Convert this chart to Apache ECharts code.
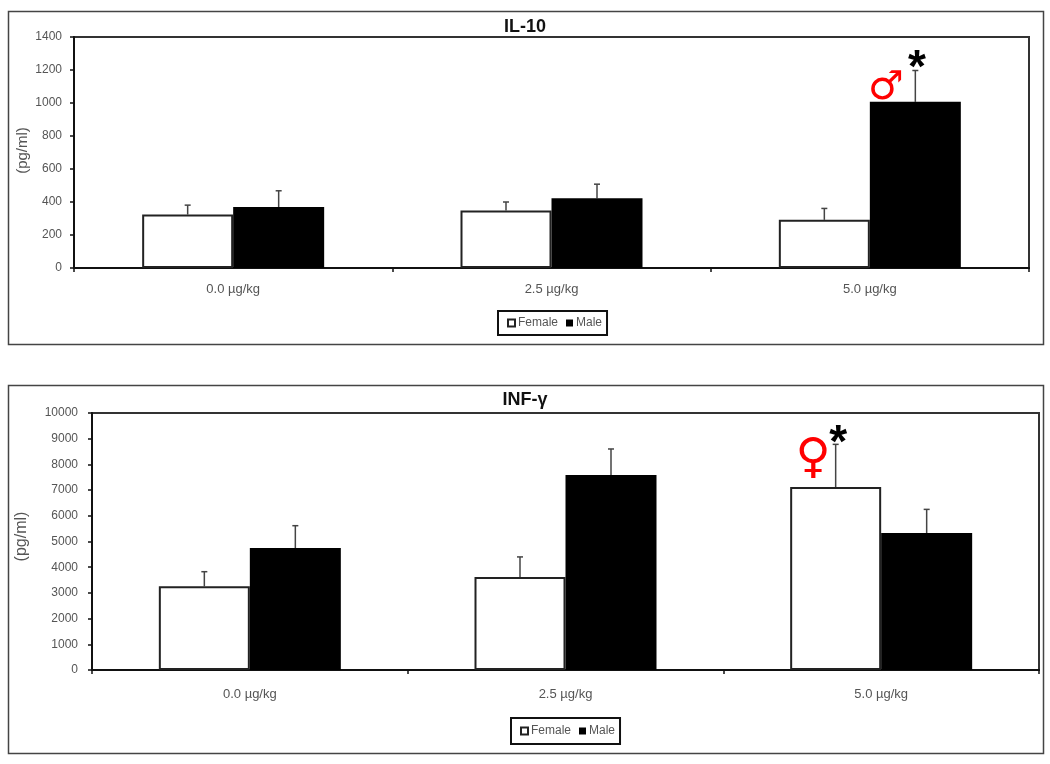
<!DOCTYPE html>
<html>
<head>
<meta charset="utf-8">
<title>IL-10 and INF-γ</title>
<script src="https://cdn.jsdelivr.net/npm/echarts@6/dist/echarts.min.js"></script>
<style>
  html, body { margin: 0; padding: 0; background: #fff; }
  #chart { width: 1050px; height: 764px; filter: blur(0.5px); }
</style>
</head>
<body>
<div id="chart"></div>
<script>
// doses, shared by both panels
const doses = ['0.0 µg/kg', '2.5 µg/kg', '5.0 µg/kg'];

// IL-10 (pg/ml)
const il10Female = [324, 348, 292];
const il10Male = [369, 423, 1007];
const il10FemaleTop = [381, 400, 361];
const il10MaleTop = [468, 508, 1197];
const il10Ticks = [0, 1400, 200];

// INF-γ (pg/ml)
const infFemale = [3257, 3620, 7120];
const infMale = [4747, 7590, 5330];
const infFemaleTop = [3825, 4400, 8780];
const infMaleTop = [5615, 8600, 6250];
const infTicks = [0, 10000, 1000];

// [dose index, value, text]
const il10Marks = [[2, 1090, '♂'], [2, 1205, '*']];
const infMarks = [[2, 8170, '♀'], [2, 8800, '*']];

const BAR_W = 91;
const font = '"Liberation Sans", Arial, sans-serif';
const grey = '#555';
const markFonts = { '*': 'bold 46px ' + font, '♂': '40px "DejaVu Sans"', '♀': '48px "DejaVu Sans"' };

// whisker above a bar, side is -1 for female and 1 for male
function errorBar(gridIndex, name, side, values, tops) {
  return {
    type: 'custom',
    name: name,
    xAxisIndex: gridIndex,
    yAxisIndex: gridIndex,
    z: 1,
    silent: true,
    data: values.map((v, i) => [i, v, tops[i]]),
    encode: { x: 0, y: [1, 2] },
    renderItem(params, api) {
      const from = api.coord([api.value(0), api.value(1)]);
      const to = api.coord([api.value(0), api.value(2)]);
      const x = from[0] + side * BAR_W / 2;
      const style = { stroke: '#444', lineWidth: 1.5, fill: null };
      return {
        type: 'group',
        children: [
          { type: 'line', shape: { x1: x, y1: from[1], x2: x, y2: to[1] }, style },
          { type: 'line', shape: { x1: x - 3, y1: to[1], x2: x + 3, y2: to[1] }, style }
        ]
      };
    }
  };
}

// symbols drawn over the plot, anchored to the data
function marks(gridIndex, data, offsets) {
  return {
    type: 'custom',
    xAxisIndex: gridIndex,
    yAxisIndex: gridIndex,
    z: 5,
    silent: true,
    data: data,
    encode: { x: 0, y: 1 },
    renderItem(params, api) {
      const p = api.coord([api.value(0), api.value(1)]);
      const text = data[params.dataIndex][2];
      return {
        type: 'text',
        x: p[0] + offsets[params.dataIndex],
        y: p[1],
        style: {
          text: text,
          fill: text === '*' ? '#000' : '#f00',
          font: markFonts[text],
          align: 'center',
          verticalAlign: 'middle'
        }
      };
    }
  };
}

function barSeries(gridIndex, name, values, fill, border) {
  return {
    type: 'bar',
    name: name,
    xAxisIndex: gridIndex,
    yAxisIndex: gridIndex,
    data: values,
    barWidth: BAR_W,
    barGap: 0,
    z: 2,
    itemStyle: { color: fill, borderColor: '#222', borderWidth: border }
  };
}

function xAxis(gridIndex, labelMargin) {
  return {
    type: 'category',
    gridIndex: gridIndex,
    data: doses,
    axisLine: { lineStyle: { color: '#111', width: 2 } },
    axisTick: { show: true, length: 4, lineStyle: { color: '#111', width: 1.5 } },
    axisLabel: { color: grey, fontFamily: font, fontSize: 13, margin: labelMargin }
  };
}

function yAxis(gridIndex, ticks, nameGap, nameSize, nameShift, labelMargin) {
  return {
    type: 'value',
    gridIndex: gridIndex,
    min: ticks[0],
    max: ticks[1],
    interval: ticks[2],
    name: '(pg/ml)',
    nameLocation: 'middle',
    nameGap: nameGap,
    nameMoveOverlap: false,
    nameTextStyle: { color: grey, fontFamily: font, fontSize: nameSize, padding: [0, 0, 0, nameShift] },
    splitLine: { show: false },
    axisLine: { show: true, lineStyle: { color: '#111', width: 2 } },
    axisTick: { show: true, length: 4, lineStyle: { color: '#111', width: 1.5 } },
    axisLabel: { color: grey, fontFamily: font, fontSize: 12, margin: labelMargin, formatter: v => String(v) }
  };
}

function legend(left, top, pad) {
  return {
    data: ['Female', 'Male'],
    top: top,
    left: left,
    selectedMode: false,
    orient: 'horizontal',
    icon: 'rect',
    itemWidth: 7,
    itemHeight: 7,
    itemGap: 8,
    padding: [pad, 5, pad, 9],
    borderColor: '#111',
    borderWidth: 2,
    textStyle: { color: grey, fontFamily: font, fontSize: 12, padding: [0, 0, 0, -2] }
  };
}

function titleAt(text, top) {
  return {
    text: text,
    left: 'center',
    top: top,
    padding: 0,
    textStyle: { color: '#111', fontFamily: font, fontSize: 18, fontWeight: 'bold' }
  };
}

function frame(y, height) {
  return {
    type: 'rect',
    shape: { x: 8.5, y: y + 0.5, width: 1035, height: height },
    style: { fill: null, stroke: '#444', lineWidth: 1.5 },
    z: -1
  };
}

const chart = echarts.init(document.getElementById('chart'), null, { renderer: 'canvas' });
chart.setOption({
  animation: false,
  backgroundColor: '#fff',
  title: [titleAt('IL-10', 18), titleAt('INF-γ', 391)],
  legend: [legend(498, 311, 6), legend(511, 718, 7)],
  grid: [
    { left: 74, right: 21, top: 37, height: 231, show: true, borderColor: '#333', borderWidth: 2, backgroundColor: 'transparent' },
    { left: 92, right: 11, top: 413, height: 257, show: true, borderColor: '#333', borderWidth: 2, backgroundColor: 'transparent' }
  ],
  xAxis: [xAxis(0, 15), xAxis(1, 18)],
  yAxis: [yAxis(0, il10Ticks, 44, 15, 4, 12), yAxis(1, infTicks, 62, 16, 10, 14)],
  series: [
    barSeries(0, 'Female', il10Female, '#fff', 2),
    barSeries(0, 'Male', il10Male, '#000', 0),
    errorBar(0, 'Female error', -1, il10Female, il10FemaleTop),
    errorBar(0, 'Male error', 1, il10Male, il10MaleTop),
    marks(0, il10Marks, [16, 47]),
    barSeries(1, 'Female', infFemale, '#fff', 2),
    barSeries(1, 'Male', infMale, '#000', 0),
    errorBar(1, 'Female error', -1, infFemale, infFemaleTop),
    errorBar(1, 'Male error', 1, infMale, infMaleTop),
    marks(1, infMarks, [-68, -43])
  ],
  graphic: [frame(11, 333), frame(385, 368)]
});
</script>
</body>
</html>
